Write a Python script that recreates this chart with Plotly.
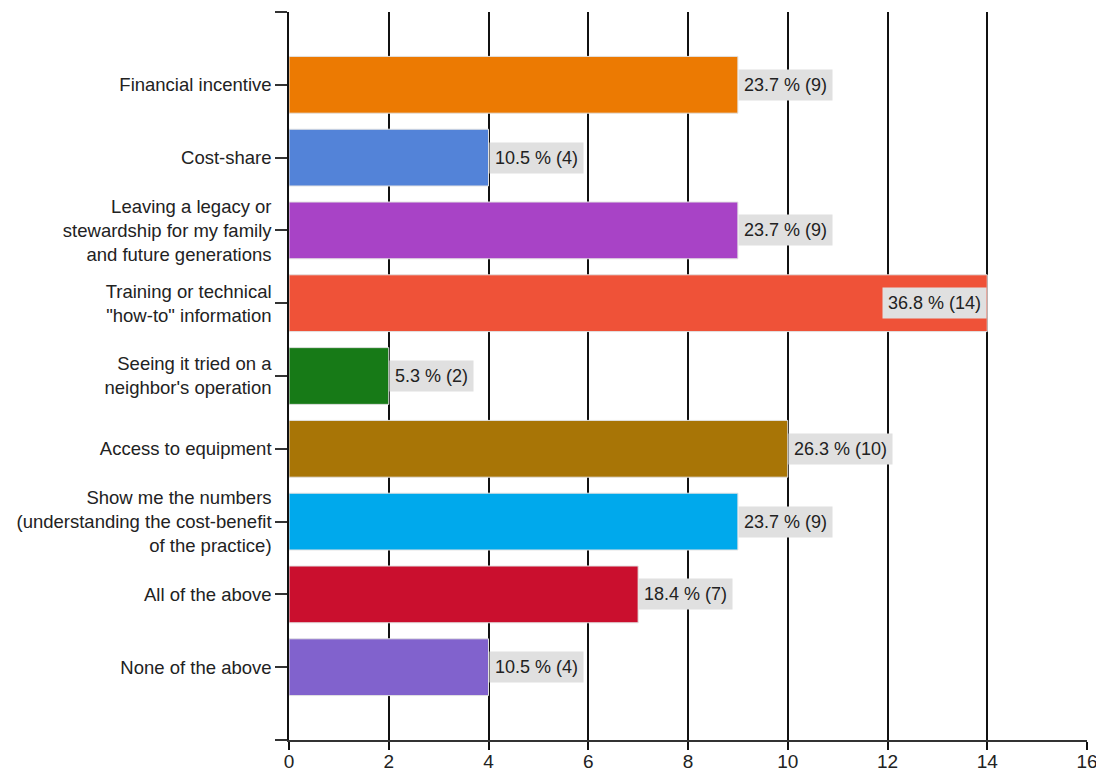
import plotly.graph_objects as go

categories = [
    "Financial incentive",
    "Cost-share",
    "Leaving a legacy or<br>stewardship for my family<br>and future generations",
    "Training or technical<br>\"how-to\" information",
    "Seeing it tried on a<br>neighbor's operation",
    "Access to equipment",
    "Show me the numbers<br>(understanding the cost-benefit<br>of the practice)",
    "All of the above",
    "None of the above",
]
counts = [9, 4, 9, 14, 2, 10, 9, 7, 4]
percents = [23.7, 10.5, 23.7, 36.8, 5.3, 26.3, 23.7, 18.4, 10.5]
colors = ["#ec7a02", "#5383d8", "#a843c6", "#ef5238", "#177a17",
          "#a87506", "#00a9ec", "#ca0f2e", "#8162cd"]
x_ticks = [0, 2, 4, 6, 8, 10, 12, 14, 16]

pos = list(range(len(categories)))

fig = go.Figure()
fig.add_trace(go.Bar(
    x=counts, y=pos, orientation="h", width=0.78,
    marker=dict(color=colors, line=dict(color="#e2e2e2", width=1)),
    hoverinfo="skip", showlegend=False,
))

for i, (c, p) in enumerate(zip(counts, percents)):
    inside = c == max(counts)
    fig.add_annotation(
        x=c, y=i, xref="x", yref="y",
        text=f"{p:.1f} % ({c})",
        showarrow=False,
        xanchor="right" if inside else "left",
        yanchor="middle",
        bgcolor="#e0e0e0", borderpad=5,
        font=dict(family="Liberation Sans, Arial, sans-serif", size=18, color="#222222"),
    )

# page body adds an 8px offset; figure size compensates so the plot lands where the reference has it
fig.update_layout(
    width=1096, height=766,
    margin=dict(l=281, r=17, t=4, b=34),
    paper_bgcolor="white", plot_bgcolor="white",
    font=dict(family="Liberation Sans, Arial, sans-serif", color="#222222"),
    xaxis=dict(
        range=[0, 16], tickvals=x_ticks, ticktext=[str(t) for t in x_ticks],
        showgrid=True, gridcolor="#111111", gridwidth=1.5,
        showline=True, linecolor="#333333", linewidth=1.5,
        ticks="outside", ticklen=8, tickcolor="#111111", tickwidth=1.5,
        tickfont=dict(size=19, color="#222222"),
        ticklabelstandoff=-5,
        zeroline=False, fixedrange=True, automargin=False,
    ),
    yaxis=dict(
        range=[len(categories), -1],
        tickvals=[-1] + pos + [len(categories)],
        ticktext=[""] + categories + [""],
        showgrid=False, zeroline=False,
        showline=True, linecolor="#111111", linewidth=1.5,
        ticks="outside", ticklen=12, tickcolor="#333333", tickwidth=1.5,
        tickfont=dict(size=18.5, color="#222222"),
        fixedrange=True, automargin=False,
    ),
)

fig.write_html("out.html")
